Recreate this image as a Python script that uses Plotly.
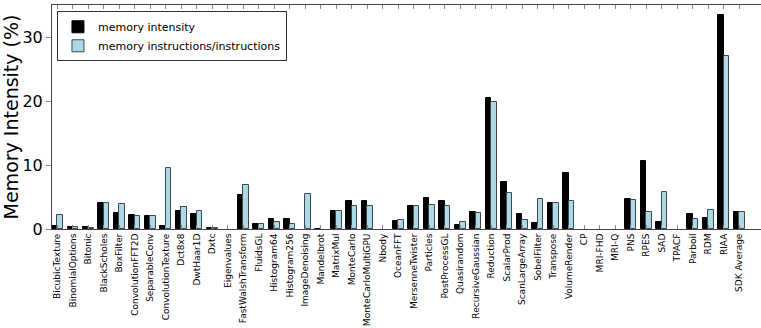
import plotly.graph_objects as go

categories = ["BicubicTexture", "BinomialOptions", "Bitonic", "BlackScholes", "BoxFilter",
              "ConvolutionFFT2D", "SeparableConv", "ConvolutionTexture", "Dct8x8", "DwtHaar1D",
              "Dxtc", "Eigenvalues", "FastWalshTransform", "FluidsGL", "Histogram64",
              "Histogram256", "ImageDenoising", "Mandelbrot", "MatrixMul", "MonteCarlo",
              "MonteCarloMultiGPU", "Nbody", "OceanFFT", "MersenneTwister", "Particles",
              "PostProcessGL", "Quasirandom", "RecursiveGaussian", "Reduction", "ScalarProd",
              "ScanLargeArray", "SobelFilter", "Transpose", "VolumeRender", "CP", "MRI-FHD",
              "MRI-Q", "PNS", "RPES", "SAD", "TPACF", "Parboil", "RDM", "RIAA", "SDK Average"]

memory_intensity = [0.4, 0.3, 0.3, 4.1, 2.5, 2.15, 2.0, 0.47, 2.75, 2.35,
                    0.1, 0.0, 5.35, 0.73, 1.55, 1.5, 0.0, 0.05, 2.8, 4.4,
                    4.4, 0.0, 1.3, 3.6, 4.85, 4.4, 0.68, 2.7, 20.5, 7.4,
                    2.3, 0.9, 4.06, 8.75, 0.0, 0.0, 0.0, 4.75, 10.6, 1.1,
                    0.0, 2.3, 1.75, 33.5, 2.7]

memory_instr_ratio = [2.2, 0.3, 0.15, 4.1, 3.85, 2.0, 2.0, 9.5, 3.45, 2.85,
                      0.1, 0.0, 6.9, 0.73, 1.05, 0.8, 5.45, 0.0, 2.8, 3.6,
                      3.6, 0.0, 1.45, 3.6, 3.75, 3.6, 1.05, 2.5, 19.85, 5.6,
                      1.4, 4.7, 4.06, 4.4, 0.0, 0.0, 0.0, 4.6, 2.7, 5.8,
                      0.0, 1.6, 2.95, 27.0, 2.7]

y_ticks = [0, 10, 20, 30]

FONT = "DejaVu Sans"


def outline(vals):
    return [1 if v > 0 else 0 for v in vals]


fig = go.Figure()
fig.add_trace(go.Bar(
    x=categories, y=memory_intensity, name="memory intensity",
    width=0.35, offset=-0.35,
    marker=dict(color="black", line=dict(color="black", width=outline(memory_intensity))),
))
fig.add_trace(go.Bar(
    x=categories, y=memory_instr_ratio, name="memory instructions/instructions",
    width=0.35, offset=0,
    marker=dict(color="#add8e6", line=dict(color="#3a4a50", width=outline(memory_instr_ratio))),
))

fig.update_layout(
    width=761, height=328,
    margin=dict(l=52, r=0, t=5, b=99),
    plot_bgcolor="white", paper_bgcolor="white",
    font=dict(family=FONT, color="black"),
    showlegend=True,
    legend=dict(
        x=0.007, y=0.972, xanchor="left", yanchor="top",
        bgcolor="white", bordercolor="#333", borderwidth=1,
        font=dict(size=11, family=FONT), itemwidth=30,
        tracegroupgap=0,
    ),
    bargap=0,
)
fig.update_xaxes(
    type="category", range=[-0.35, 45.4],
    tickangle=-90, tickfont=dict(size=9, family=FONT),
    showline=True, linecolor="#444", linewidth=1, mirror="ticks",
    ticks="inside", ticklen=4, tickcolor="#888",
    showgrid=False, zeroline=False,
)
fig.update_yaxes(
    range=[0, 35], tickvals=y_ticks,
    tickfont=dict(size=16, family=FONT),
    showline=True, linecolor="#444", linewidth=1,
    ticks="outside", ticklen=5, tickcolor="#888",
    showgrid=False, zeroline=False,
    title=dict(text="Memory Intensity (%)", font=dict(size=19, family=FONT), standoff=6),
)

fig.write_html("out.html")
